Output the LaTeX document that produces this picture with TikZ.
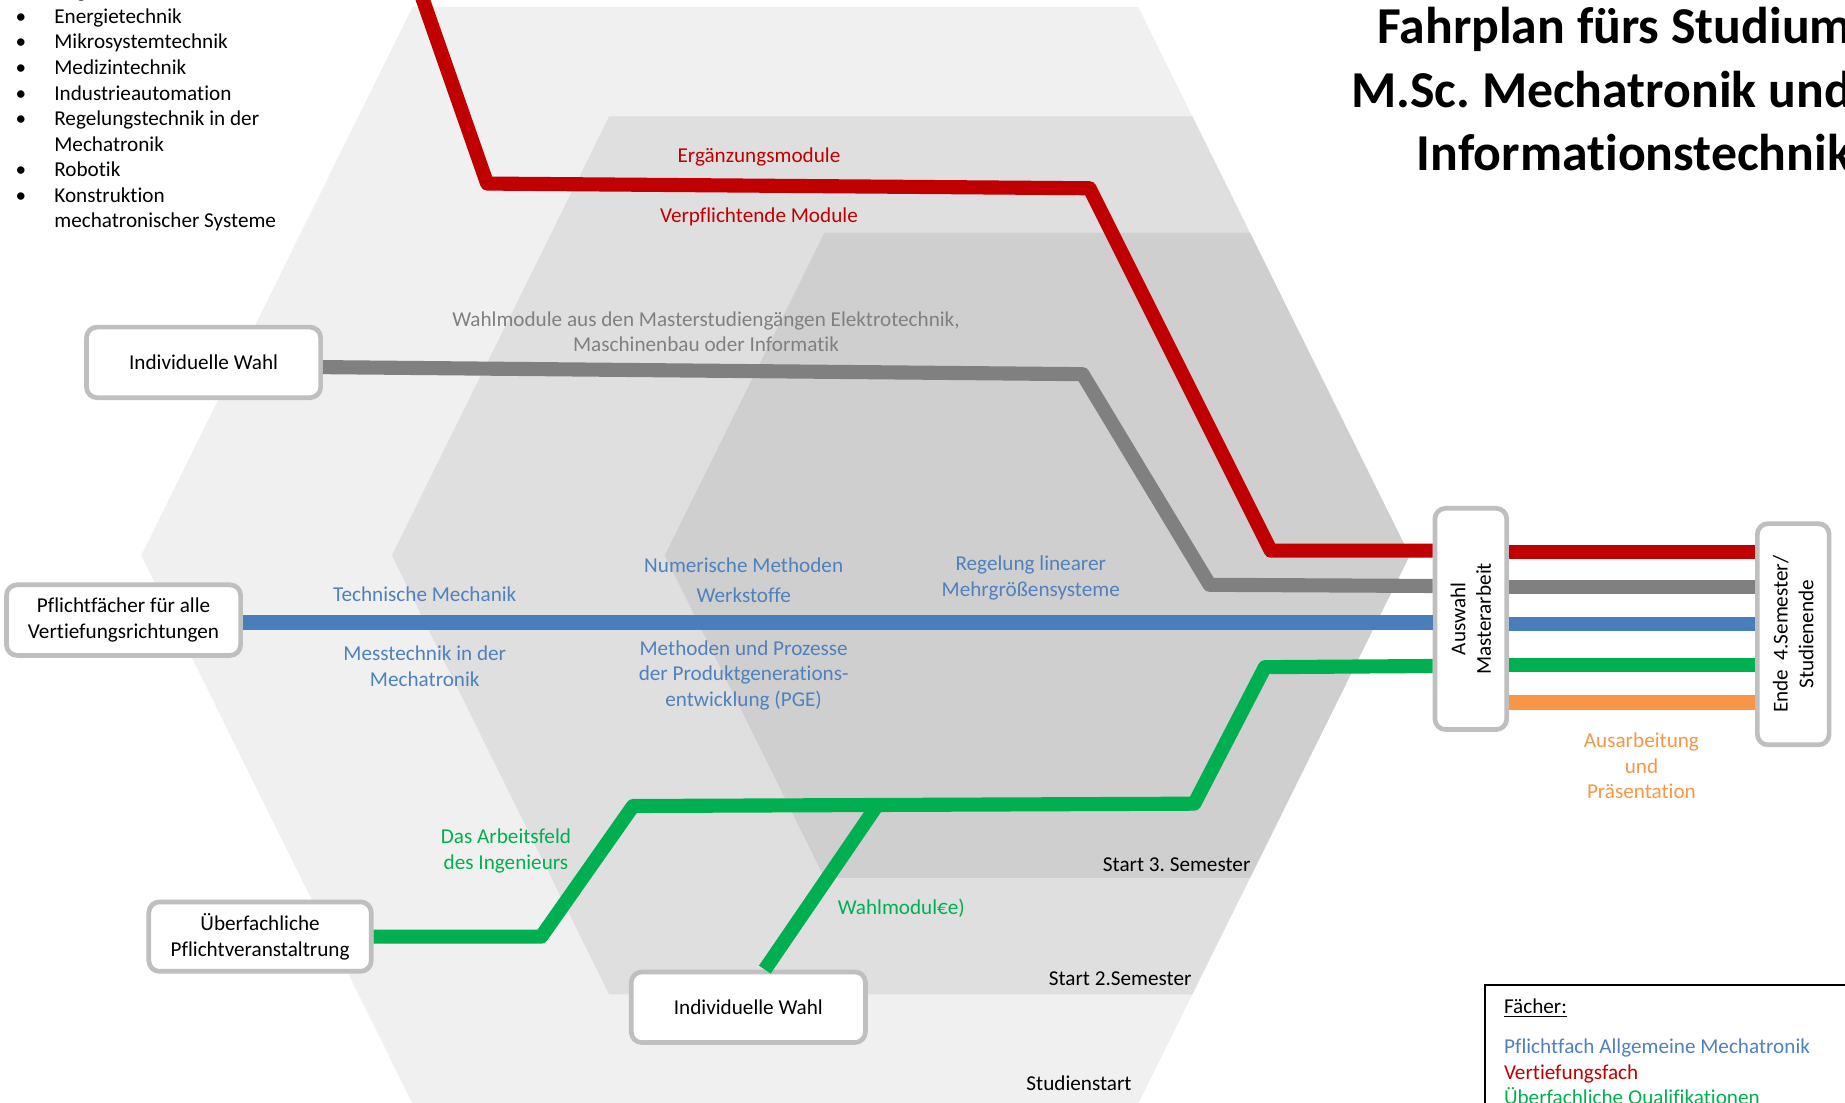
\documentclass[tikz,border=0pt]{standalone}
\usepackage{fontspec}
\setmainfont[Ligatures=NoCommon]{Carlito}
\usepackage{tikz}
\frenchspacing

\definecolor{hexA}{HTML}{F0F0F0}
\definecolor{hexB}{HTML}{DFDFDF}
\definecolor{hexC}{HTML}{CFCFCF}
\definecolor{boxgray}{HTML}{BFBFBF}
\definecolor{redline}{HTML}{C00000}
\definecolor{grayline}{HTML}{808080}
\definecolor{blueline}{HTML}{4A7EBB}
\definecolor{bluetext}{HTML}{4F81BD}
\definecolor{greenline}{HTML}{00B050}
\definecolor{orangeline}{HTML}{F79646}

\tikzset{
  station/.style={draw=boxgray, line width=4pt, rounded corners=9pt, fill=white,
    minimum width=199pt, minimum height=60pt, align=center, inner sep=2pt},
  track/.style={line width=12pt, line join=round},
  lbl/.style={align=center, inner sep=0pt},
}

\begin{document}
\begin{tikzpicture}[x=1pt, y=-1pt, font=\fontsize{18}{21.75}\selectfont]
		\useasboundingbox (0,0) rectangle (1568,937);
		\clip (0,0) rectangle (1568,937);

		% Semester-Sechsecke
		\foreach \h/\xl/\col in {466/120/hexA, 373/333/hexB, 274/565/hexC}
			\fill[fill=\col] (\xl,472) -- ({\xl+0.495*\h},{472-\h}) -- ({1198-0.495*\h},{472-\h})
				-- (1198,472) -- ({1198-0.495*\h},{472+\h}) -- ({\xl+0.495*\h},{472+\h}) -- cycle;

		% Stationen
		\node[station] (wahlA) at (173,308) {Individuelle Wahl};
		\node[station] (pflicht) at (105,527) {Pflichtfächer für alle\\Vertiefungsrichtungen};
		\node[station, minimum width=189pt, minimum height=59pt] (ueber) at (221,796) {Überfachliche\\Pflichtveranstaltrung};
		\node[station] (wahlB) at (636,856) {Individuelle Wahl};
		\node[station, rotate=90, minimum width=188pt, minimum height=61pt] (auswahl) at (1250,526) {Auswahl\\Masterarbeit};
		\node[station, rotate=90, minimum width=188pt, minimum height=61pt] (ende) at (1524,539) {Ende~~4.Semester/\\Studienende};

		% Linien
		\coordinate (redtop) at (356,-10);
		\draw[track, draw=redline] (redtop) -- (414,156) -- (926,160) -- (1080,468) -- (auswahl.north |- 0,468);
		\draw[track, draw=grayline] ([yshift=-4pt]wahlA.east) -- (920,318) -- (1028,497) -- (auswahl.north |- 0,498);
		\draw[track, draw=blueline] ([yshift=-2pt]pflicht.east) -- ([yshift=-2pt]pflicht.east -| auswahl.north);
		\draw[track, draw=greenline] (ueber.east) -- (460,796) -- (538,685) -- (1015,683) -- (1075,567) -- (auswahl.north |- 0,566);
		\draw[track, draw=greenline] ([xshift=14pt]wahlB.north) -- (745,685);
		\foreach \y/\col in {469/redline, 499/grayline, 530/blueline, 565/greenline, 597/orangeline}
			\draw[track, draw=\col] (auswahl.south |- 0,\y) -- (ende.north |- 0,\y);

		% Module
		\node[lbl, text=redline] (ergaenzung) at (645,133) {Ergänzungsmodule};
		\node[lbl, text=redline] (pflichtmod) at (645,184) {Verpflichtende Module};
		\node[lbl, text=grayline] (wahlmod) at (600,282) {Wahlmodule aus den Masterstudiengängen Elektrotechnik,\\Maschinenbau oder Informatik};
		\node[lbl, text=bluetext] (techmech) at (361,505) {Technische Mechanik};
		\node[lbl, text=bluetext] (messtech) at (361,566) {Messtechnik in der\\Mechatronik};
		\node[lbl, text=bluetext] (numerik) at (632,480) {Numerische Methoden};
		\node[lbl, text=bluetext] (werkstoffe) at (632,506) {Werkstoffe};
		\node[lbl, text=bluetext] (pge) at (632,574) {Methoden und Prozesse\\der Produktgenerations-\\entwicklung (PGE)};
		\node[lbl, text=bluetext] (regelung) at (876,491) {Regelung linearer\\Mehrgrößensysteme};
		\node[lbl, text=greenline] (arbeitsfeld) at (430,723) {Das Arbeitsfeld\\des Ingenieurs};
		\node[lbl, text=greenline] (wahlmodB) at (766,772) {Wahlmodul€e)};
		\node[lbl, text=orangeline] (ausarbeitung) at (1395,651) {Ausarbeitung\\und\\Präsentation};

		% Semester
		\node[lbl] (sem3) at (1000,735) {Start 3. Semester};
		\node[lbl] (sem2) at (952,832) {Start 2.Semester};
		\node[lbl] (sem1) at (917,921) {Studienstart};

		% Vertiefungsrichtungen
		\node[anchor=base west, inner sep=0pt] (richtungen) at (13,-2) {%
			\begin{tabular}[t]{@{}p{33pt}@{}l@{}}
			\textbullet & Allgemeine Mechatronik\\
			\textbullet & Energietechnik\\
			\textbullet & Mikrosystemtechnik\\
			\textbullet & Medizintechnik\\
			\textbullet & Industrieautomation\\
			\textbullet & Regelungstechnik in der\\
			            & Mechatronik\\
			\textbullet & Robotik\\
			\textbullet & Konstruktion\\
			            & mechatronischer Systeme
			\end{tabular}};

		% Titel
		\node[anchor=east, align=right, inner sep=0pt, font=\fontsize{44}{54}\selectfont\bfseries] (titel) at (1574,76) {Fahrplan fürs Studium\\M.Sc. Mechatronik und\\Informationstechnik};

		% Legende
		\draw[line width=1.5pt] (1262,837) rectangle (1620,990);
		\node[anchor=north west, align=left, inner sep=0pt] (legende) at (1278,849) {\underline{Fächer:}\\[12pt]
			\textcolor{bluetext}{Pflichtfach Allgemeine Mechatronik}\\
			\textcolor{redline}{Vertiefungsfach}\\
			\textcolor{greenline}{Überfachliche Qualifikationen}};

	\end{tikzpicture}
\end{document}
